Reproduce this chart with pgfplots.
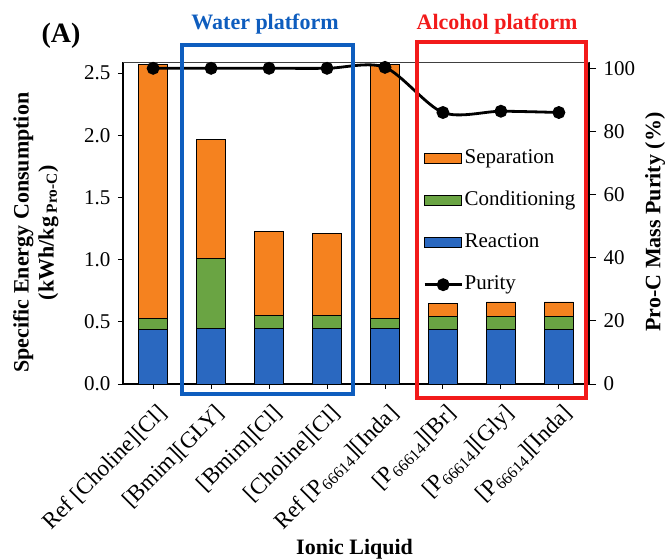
\documentclass[border=0pt]{standalone}
\usepackage{pgfplots}
\usepackage{pgfplotstable}
\pgfplotsset{compat=1.18}
\usepackage{fontspec}
\setmainfont{Liberation Serif}

\definecolor{sepC}{HTML}{F5821F}
\definecolor{conC}{HTML}{6AA443}
\definecolor{reaC}{HTML}{2A68C0}
\definecolor{waterC}{HTML}{0E5DBE}
\definecolor{alcC}{HTML}{F21A1A}

% legend glyphs: wide flat patches and a line with one centred dot
\pgfplotsset{
  barleg/.style={legend image code/.code={\draw[##1] (0pt,-5pt) rectangle (37pt,5pt);}},
  lineleg/.style={legend image code/.code={\draw[##1, mark repeat=2, mark phase=2] plot coordinates {(0pt,0pt) (18.5pt,0pt) (37pt,0pt)};}},
}

% energy split per ionic liquid (kWh/kg) and product purity (%)
\pgfplotstableread{
x rea con sep pur
0 0.44 0.09 2.04 100.0
1 0.45 0.56 0.96 100.0
2 0.45 0.10 0.68 100.0
3 0.45 0.10 0.66 100.0
4 0.45 0.08 2.04 100.3
5 0.44 0.10 0.11 86.0
6 0.44 0.10 0.12 86.4
7 0.44 0.10 0.12 86.0
}\energy

\newcommand{\ticksize}{\fontsize{21}{24}\selectfont}
\newcommand{\xticksize}{\fontsize{23}{26}\selectfont}
\newcommand{\labsize}{\fontsize{22}{25}\selectfont\bfseries}

\begin{document}
\begin{tikzpicture}[x=1pt,y=1pt]
\useasboundingbox (0,0) rectangle (667,559);
\begin{axis}[
  at={(123pt,175pt)}, anchor=south west,
  scale only axis, width=466pt, height=322pt,
  xmin=-0.52, xmax=7.52, ymin=0, ymax=2.59,
  axis x line*=bottom, axis y line*=left,
  axis line style={-, black, line width=1.2pt},
  tick align=outside, major tick length=5pt,
  tick style={black, line width=0.9pt},
  xtick={0,...,7},
  xticklabels={{Ref [Choline][Cl]},{[Bmim][GLY]},{[Bmim][Cl]},{[Choline][Cl]},{Ref [P\textsubscript{66614}][Inda]},{[P\textsubscript{66614}][Br]},{[P\textsubscript{66614}][Gly]},{[P\textsubscript{66614}][Inda]}},
  x tick label style={font=\xticksize, xshift=3pt, yshift=-11pt, rotate=45, anchor=north east, inner sep=2pt},
  ytick={0,0.5,1,1.5,2,2.5},
  y tick label style={font=\ticksize, xshift=-4pt},
  yticklabel style={/pgf/number format/.cd, fixed, fixed zerofill, precision=1, assume math mode=true},
  ylabel={Specific Energy Consumption\\(kWh/kg\textsubscript{ Pro-C})},
  ylabel style={font=\labsize, align=center, at={(axis description cs:-0.187,0.47)}, anchor=center},
  xlabel={Ionic Liquid},
  xlabel style={font=\labsize, at={(axis description cs:0.497,-0.514)}, anchor=center},
  ybar stacked, bar width=0.5,
]
\addplot[fill=reaC, draw=black, line width=0.8pt] table[x=x, y=rea]{\energy};
\addplot[fill=conC, draw=black, line width=0.8pt] table[x=x, y=con]{\energy};
\addplot[fill=sepC, draw=black, line width=0.8pt] table[x=x, y=sep]{\energy};
\end{axis}

\begin{axis}[
  at={(123pt,175pt)}, anchor=south west,
  scale only axis, width=466pt, height=322pt,
  xmin=-0.52, xmax=7.52, ymin=0, ymax=102,
  axis y line*=right, axis x line=none,
  axis line style={-, black, line width=1.2pt},
  tick align=outside, major tick length=7pt,
  tick style={black, line width=0.9pt},
  ytick={0,20,40,60,80,100},
  y tick label style={font=\ticksize, xshift=4pt},
  yticklabel style={/pgf/number format/assume math mode=true},
  ylabel={Pro-C Mass Purity (\%)},
  ylabel style={font=\labsize, at={(axis description cs:1.142,0.503)}, anchor=center},
  legend style={at={(0.644,0.736)}, anchor=north west, draw=none, fill=none,
    font=\ticksize, row sep=19pt, inner sep=0pt,
    nodes={inner sep=1.5pt, text height=15pt, text depth=5pt}},
  legend cell align=left,
]
\draw[black!75, line width=0.8pt] (rel axis cs:0,1) -- (rel axis cs:1,1);
\addlegendimage{fill=sepC, draw=black, line width=0.8pt, barleg}
\addlegendentry{Separation}
\addlegendimage{fill=conC, draw=black, line width=0.8pt, barleg}
\addlegendentry{Conditioning}
\addlegendimage{fill=reaC, draw=black, line width=0.8pt, barleg}
\addlegendentry{Reaction}
\addplot[black, line width=2.8pt, smooth, mark=*, mark size=5pt, lineleg]
  table[x=x, y=pur]{\energy};
\addlegendentry{Purity}
\end{axis}

% platform groupings
\draw[waterC, line width=3.4pt] (182,165) rectangle (353,514);
\draw[alcC, line width=4pt] (417,161) rectangle (586,517);
\node[font=\labsize, text=waterC] at (265,535) {Water platform};
\node[font=\labsize, text=alcC] at (497,535) {Alcohol platform};
\node[font=\fontsize{28}{30}\selectfont\bfseries] at (61,523) {(A)};
\end{tikzpicture}
\end{document}
